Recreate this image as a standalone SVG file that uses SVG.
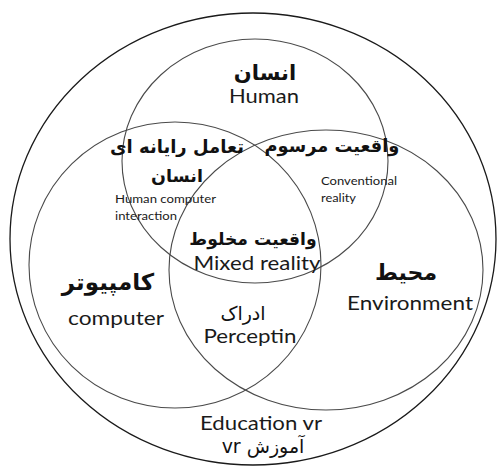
<svg xmlns="http://www.w3.org/2000/svg" width="497" height="466" viewBox="0 0 497 466">
<style>
.c{fill:none;stroke:#4a4a4a;stroke-width:1.1}
.o{fill:none;stroke:#1a1a1a;stroke-width:1.3}
.ar{font-family:"DejaVu Sans",sans-serif;font-weight:bold;fill:#111;text-anchor:middle}
.arr{font-family:"DejaVu Sans",sans-serif;fill:#111;text-anchor:middle}
.en{font-family:Lato,"Open Sans",sans-serif;fill:#1a1a1a}
.m{text-anchor:middle}
</style>
<rect width="497" height="466" fill="#fff"/>
<g id="outer"><ellipse class="o" cx="253" cy="239" rx="243" ry="226"/>
<text class="en m" x="261" y="430" font-size="19" textLength="122" lengthAdjust="spacingAndGlyphs">Education vr</text>
<text class="arr" x="263" y="453" font-size="19">vr آموزش</text>
</g>
<g id="human"><ellipse class="c" cx="255" cy="161" rx="133" ry="122"/>
<text class="ar" x="265" y="80" font-size="21">انسان</text>
<text class="en m" x="264" y="103" font-size="19" textLength="70" lengthAdjust="spacingAndGlyphs">Human</text>
</g>
<g id="computer"><ellipse class="c" cx="175" cy="265" rx="146" ry="143"/>
<text class="ar" x="108" y="290" font-size="23">کامپیوتر</text>
<text class="en m" x="116" y="325" font-size="19" textLength="96" lengthAdjust="spacingAndGlyphs">computer</text>
</g>
<g id="environment"><ellipse class="c" cx="326" cy="270" rx="157" ry="140"/>
<text class="ar" x="406" y="280" font-size="22">محیط</text>
<text class="en m" x="410" y="310" font-size="19" textLength="126" lengthAdjust="spacingAndGlyphs">Environment</text>
</g>
<g id="hci">
<text class="ar" x="177" y="153" font-size="18">تعامل رایانه ای</text>
<text class="ar" x="177" y="182" font-size="17.5">انسان</text>
<text class="en" x="115" y="203" font-size="11.5" textLength="101" lengthAdjust="spacingAndGlyphs">Human computer</text>
<text class="en" x="115" y="220" font-size="11.5" textLength="62" lengthAdjust="spacingAndGlyphs">interaction</text>
</g>
<g id="conventional">
<text class="ar" x="332" y="152" font-size="17.8">واقعیت مرسوم</text>
<text class="en" x="321" y="185" font-size="11.5" textLength="76" lengthAdjust="spacingAndGlyphs">Conventional</text>
<text class="en" x="321" y="202" font-size="11.5" textLength="35" lengthAdjust="spacingAndGlyphs">reality</text>
</g>
<g id="mixed">
<text class="ar" x="253" y="245" font-size="17.2">واقعیت مخلوط</text>
<text class="en m" x="257" y="270" font-size="19" textLength="127" lengthAdjust="spacingAndGlyphs">Mixed reality</text>
</g>
<g id="perception">
<text class="arr" x="243" y="320" font-size="19">ادراک</text>
<text class="en m" x="250" y="343" font-size="19" textLength="93" lengthAdjust="spacingAndGlyphs">Perceptin</text>
</g>
</svg>
